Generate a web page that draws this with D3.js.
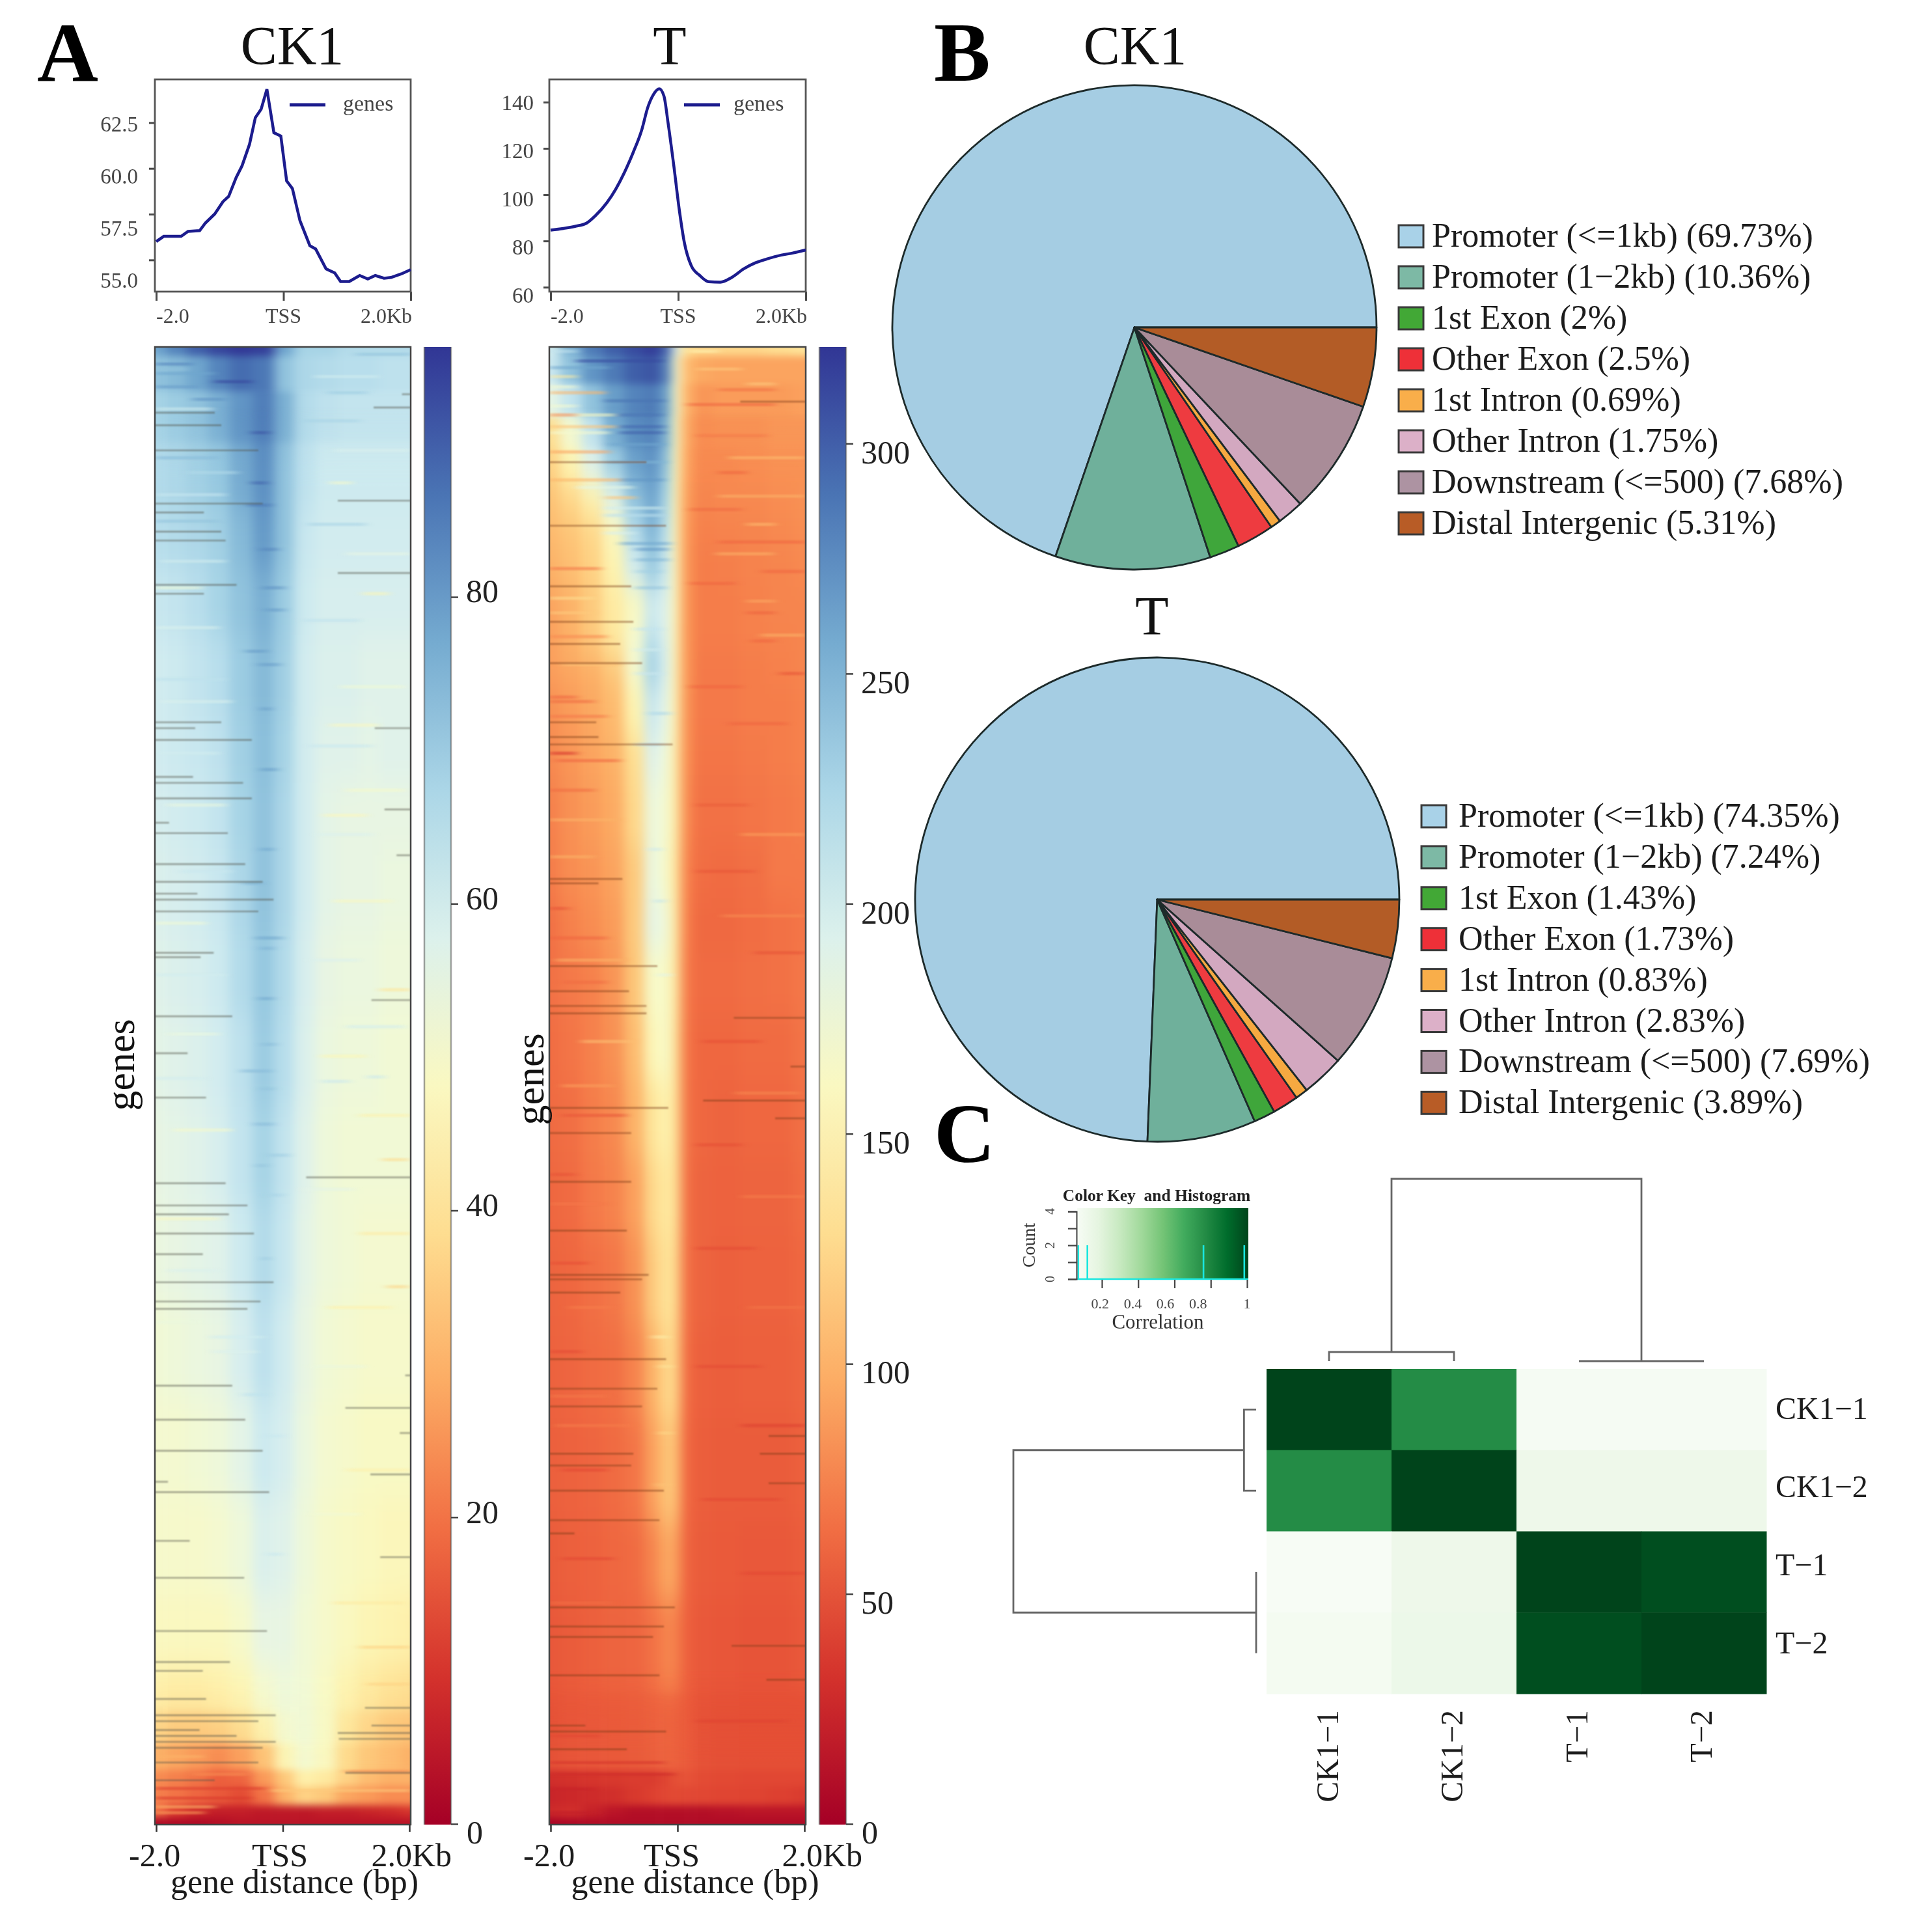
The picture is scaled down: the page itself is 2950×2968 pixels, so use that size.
<!DOCTYPE html>
<html><head><meta charset="utf-8">
<script src="https://cdn.jsdelivr.net/npm/d3@7/dist/d3.min.js"></script>
<style>html,body{margin:0;padding:0;background:#fff}svg{display:block;font-family:"Liberation Serif",serif;filter:blur(0.7px)}</style>
</head><body><svg id="c" width="2950" height="2968" viewBox="0 0 2950 2968"></svg>
<script>
// ---------- profile lines
const ck1LineBp=[-2000,-1882,-1745,-1608,-1499,-1317,-1226,-1080,-952,-861,-743,-651,-533,-442,-351,-260,-150,-41,50,141,260,415,506,670,806,898,1034,1198,1326,1444,1581,1690,1854,2000];
const ck1LineVal=[56.0,56.29,56.29,56.29,56.56,56.6,57.02,57.51,58.18,58.47,59.5,60.14,61.32,62.77,63.23,64.32,61.95,61.77,59.32,58.9,57.14,55.78,55.6,54.51,54.29,53.82,53.82,54.15,53.96,54.15,54.0,54.04,54.24,54.47];
const tLineBp=[-2000,-1800,-1617,-1435,-1298,-1116,-979,-843,-706,-569,-478,-387,-296,-223,-159,-68,23,96,205,342,478,661,843,1025,1207,1390,1617,1800,2000];
const tLineVal=[84.7,85.4,86.3,87.7,90.9,96.6,102.4,109.6,118.2,128.2,137.6,143.3,145.7,142.6,131.1,112.4,92.3,79.4,69.3,65.0,62.4,62.2,64.3,67.9,70.5,72.2,73.9,74.8,76.1];
const ck1LineTicks=[55,57.5,60,62.5], tLineTicks=[60,80,100,120,140];
const xTickBp=[-2000,0,2000], xTickText=["-2.0","TSS","2.0Kb"];
// ---------- heatmap grids (bp columns, gene-rank rows, signal)
const ck1Cols=[-2000,-1667,-1333,-1000,-667,-280,30,333,667,1000,1333,1667,2000];
const ck1Ranks=[0,6,30,65,110,150,195,250,295,338,395,452,514,580,646,712,778,844,892,923,945,963,974,987,995];
const ck1Grid=[
[78,84,90,94,96,95,78,68,68,66,66,66,66],
[72,74,78,84,88,86,72,67,66,65,65,64,64],
[68,70,72,76,81,85,76,66,64,63,63,63,63],
[66,67,69,71,77,82,72,64,61,61,61,61,61],
[65,66,67,69,74,80,72,62,60,60,60,60,60],
[62,63,65,68,72,76,70,61,59,59,59,59,59],
[60,61,63,65,70,74,69,60,58,58,57,57,57],
[60,61,62,64,69,73,68,60,57,57,56,57,57],
[59,60,61,63,68,72,67,60,56,55,55,55,55],
[58,59,60,62,67,72,67,60,56,55,55,54,54],
[57,58,59,61,66,71,66,59,55,54,54,53,53],
[56,57,58,60,64,70,65,58,54,53,53,52,52],
[55,56,57,59,63,68,63,57,53,52,52,52,52],
[54,55,56,57,61,66,62,56,53,52,51,51,51],
[52,53,54,55,59,64,60,55,52,51,50,50,50],
[51,51,52,53,56,61,59,54,51,50,49,49,49],
[50,50,50,51,53,58,57,53,50,49,48,47,47],
[48,48,48,48,50,55,55,52,50,48,46,45,44],
[44,43,43,44,46,51,53,52,49,45,42,40,39],
[37,35,35,36,39,45,51,52,49,41,37,34,33],
[30,28,26,24,27,33,46,51,48,38,34,32,30],
[24,22,20,17,18,26,34,44,42,36,32,30,30],
[22,20,18,16,14,20,30,36,34,28,26,24,24],
[20,12,8,6,6,5,5,5,6,6,7,8,10],
[2,2,2,3,4,4,4,4,4,4,4,4,4]];
const tCols=[-2000,-1666,-1333,-999,-665,-383,-162,-25,128,366,740,1183,1591,2000];
const tRanks=[0,6,25,47,69,91,113,135,162,188,206,228,263,294,338,373,408,452,496,549,602,664,725,795,848,910,963,974,987,995];
const tGrid=[
[200,250,285,300,310,318,300,190,130,125,125,125,130,135],
[205,240,270,285,300,305,285,170,105,95,92,92,92,92],
[185,210,240,265,280,285,265,165,100,85,88,88,88,90],
[130,170,210,255,275,280,255,160,95,80,82,82,85,85],
[120,150,190,230,262,270,240,155,92,78,78,80,82,82],
[110,125,150,190,240,260,225,150,88,76,78,78,80,82],
[105,112,125,160,220,250,215,150,86,74,75,76,78,80],
[100,108,120,150,200,235,205,150,85,72,73,75,76,78],
[92,100,115,140,160,200,190,150,84,72,72,74,76,76],
[90,100,115,140,170,215,190,148,84,72,72,74,75,76],
[90,95,100,115,170,230,195,145,84,70,70,72,74,76],
[82,88,95,105,150,205,185,145,82,70,70,72,72,74],
[78,85,92,100,130,190,175,140,80,68,68,70,72,74],
[74,82,88,96,125,178,170,140,78,66,66,68,70,72],
[72,80,84,92,115,180,165,135,74,64,63,65,70,70],
[66,74,80,88,115,185,175,135,72,62,62,64,66,68],
[66,70,74,84,112,165,165,135,70,63,63,65,66,69],
[64,68,74,82,106,155,165,130,68,61,61,63,63,67],
[63,65,72,78,100,135,150,130,67,61,59,61,61,65],
[61,63,70,75,90,125,140,130,65,59,58,59,59,63],
[59,61,65,69,82,115,135,125,65,59,57,58,58,61],
[58,60,63,65,75,100,125,120,63,57,56,57,57,59],
[57,58,60,63,68,90,112,108,61,56,55,55,55,57],
[55,57,58,61,63,76,95,90,59,55,54,53,53,55],
[53,55,57,59,60,66,76,74,57,53,52,51,51,53],
[50,52,53,54,55,57,59,58,54,50,49,48,48,48],
[30,32,34,36,38,38,42,50,50,46,45,44,44,44],
[24,26,28,30,36,40,44,46,44,44,43,42,40,38],
[28,30,22,14,10,10,10,10,10,10,12,14,14,14],
[4,6,8,8,8,8,8,8,8,8,8,8,8,8]];
// streaks seen in the picture: [rank, bpFrom, bpTo, signal]
const ck1Bands=[[11.6,-2000,-1404,84],[18,-2000,-1064,78],[23.5,-1064,-485,94],[35.5,-1404,-894,82],[58,-485,-213,92],[92,-485,-247,90],[107,-553,-179,86],[137,-349,-77,84],[163,-2000,-1268,52],[163,-315,26,82],[178,-281,26,80],[206,-587,-247,80],[215,-383,-43,80],[245,-349,-179,80],[286,-349,-77,80],[5,1149,2000,72],[31,706,1319,70],[92,740,1081,50],[167,1251,1659,46],[256,740,1489,48],[317,638,1319,47],[340,-349,-145,78],[363,-621,-315,76],[400,-417,-9,78],[407,-349,-145,76],[441,-383,-145,78],[472,-315,-111,74],[490,-655,-179,74],[502,-349,-145,72],[526,-451,-145,74],[547,-247,94,70],[554,-417,-247,72],[574,-247,-9,68],[617,-315,-213,72],[435,1523,2000,40],[550,1557,1966,38],[636,1625,1966,36],[497,604,1047,62],[494,1319,1591,62],[670,-1132,-281,60],[709,-621,-247,64],[737,-281,26,62],[817,-247,-9,62],[905,1319,2000,36],[954,-2000,-1234,30],[966,-1404,-553,24],[964,979,2000,24],[975.5,-2000,-281,12],[977,-179,2000,34],[982,-2000,-485,11],[988,-2000,-1064,30],[992,-2000,-1234,26],
[15,-2000,-1500,72],[27,-2000,-1300,80],[42,-2000,-1100,60],[75,-2000,-1000,74],[85,-1500,-700,66],[100,-2000,-900,62],[118,-2000,-1000,72],[145,-1900,-900,60],[190,-2000,-1000,58],[225,-2000,-900,64],[240,-1900,-800,58],[275,-2000,-1000,60],[310,-1800,-900,54],[355,-1600,-800,62],[390,-2000,-1200,52],[425,-2000,-900,60],[465,-1800,-1000,54],[495,-2000,-1200,60],[530,-1700,-800,50],[590,-2000,-1000,48],[625,-1800,-1000,58],[660,-2000,-1300,54],[680,-1100,-400,58],
[20,500,1500,60],[50,300,1200,68],[70,800,2000,58],[120,400,1300,68],[140,1000,2000,55],[185,300,1200,64],[230,900,1900,52],[270,400,1400,62],[300,1000,1900,50],[330,500,1400,58],[375,800,1700,48],[415,400,1200,58],[460,1000,1900,60],[480,600,1300,46],[520,1200,2000,44],[570,300,1100,56],[600,1200,2000,42],[650,700,1700,44],[690,400,1300,54],[760,1000,2000,44],[790,400,1200,52],[850,800,1900,42],[880,1200,2000,36]];
const tBands=[[3,196,638,150],[3,-2000,-1574,210],[9.5,-1574,-246,312],[14,-2000,-1064,260],[20,-2000,-1574,140],[27,-2000,-1574,170],[31,-2000,-1132,100],[36.5,-1132,-213,290],[40,-2000,-1574,170],[46,-2000,-1574,80],[46,-1574,-962,160],[46,-962,-247,290],[54,-2000,-962,110],[54,-894,-213,295],[58,-2000,-1064,170],[58,-894,-213,300],[66,-1064,-213,260],[71,-2000,-1064,90],[78,-1064,-179,250],[90,-894,-213,270],[95,-1574,-689,185],[102,-1132,-655,110],[109,-1132,-213,200],[114,-1132,-213,215],[126,-1132,-655,195],[133,-894,-111,260],[137,-655,-145,270],[144,-655,-145,250],[152,-655,-247,230],[163,-655,-179,240],[191,-655,-247,210],[205,-655,-247,200],[221,-655,-247,205],[248,-451,-111,225],[269,-655,-247,215],[25,1081,1523,115],[29,638,1523,65],[39,162,1523,60],[85,638,1081,58],[101,638,2000,100],[120,1081,1523,105],[132,638,2000,60],[152,1319,2000,60],[172,1081,1523,95],[180,1081,1523,58],[199,1149,1523,60],[221,1591,2000,50],[275,-2000,-1574,32],[237,-2000,-1574,60],[90,-2000,-894,100],[150,-2000,-1200,68],[180,-2000,-1300,115],[240,-2000,-1300,62],[300,-2000,-1300,62],[320,-2000,-900,100],[380,-2000,-1700,50],[430,-1800,-1100,62],[470,-1500,-700,110],[520,-1800,-800,52],[560,-2000,-1600,50],[620,-2000,-1400,48],[680,-2000,-1500,46],[760,-1800,-1100,44],[820,-1800,-1000,44],[940,-2000,-1200,44],[958,-2000,-200,34],[966,-2000,-43,28],[976,-2000,-1300,22],[992,-2000,-1300,20],
[15,300,1000,115],[60,300,1400,70],[75,800,2000,105],[110,200,1000,62],[140,600,1500,100],[160,200,900,60],[195,1300,2000,100],[230,200,1000,60],[255,800,1700,60],[310,300,1100,55],[330,1000,2000,90],[355,300,1200,52],[385,700,2000,80],[410,1200,2000,50],[470,400,1300,48],[505,900,1900,78],[540,300,1000,48],[575,1000,2000,72],[610,300,1200,46],[650,1100,2000,68],[690,300,1300,46],[730,1000,2000,40],[780,400,1600,44],[830,1000,2000,44],[930,300,1700,42],
[170,-2000,-1300,130],[196,-2000,-1100,78],[215,-1800,-900,110],[250,-2000,-1100,70],[280,-1900,-900,60],[345,-2000,-1300,100],[400,-2000,-1100,60],[415,-1900,-800,100],[500,-1800,-1000,90],[580,-2000,-1100,70],[650,-1700,-1000,72],[710,-2000,-1100,70],[730,-1900,-700,72],[850,-2000,-1000,64],
[670,-400,-150,150],[690,-300,-80,135],[735,-300,-80,125],[770,-350,-100,110],[340,-450,-250,205],[375,-350,-200,215],[425,-300,-100,190]];
const ck1StreaksLeft=[[44.5,-1064],[53,-962],[70,-383],[106,-315],[112,-1234],[125,-962],[131,-894],[161,-723],[167,-1234],[254,-962],[258,-1370],[266,-485],[291,-1404],[295,-621],[305.5,-485],[322,-1779],[329,-860],[350,-587],[362,-315],[370,-1336],[374,-145],[382,-383],[410,-1081],[413,-1285],[453,-791],[478,-1489],[508,-1200],[566,-894],[581,-553],[587,-843],[600,-451],[614,-1251],[633,-145],[646,-349],[651,-553],[703,-791],[726,-587],[747,-315],[768,-1796],[775,-213],[808,-1455],[833,-604],[869,-247],[890,-826],[896,-1251],[915,-1200],[926,-111],[930,-383],[936,-1302],[940,-723],[944,-111],[948,-315],[958,-383],[970,-1064]];
const ck1StreaksRight=[[32,1864],[41,1421],[104,860],[153,860],[258,1438],[313,1591],[344,1779],[442,1387],[562,366],[696,1915],[718,979],[735,1830],[763,1370],[819,1523],[921,1285],[933,1387],[938,860],[942,877],[965,979]];
const tStreaksLeft=[[78,-485],[121,-179],[162,-723],[186,-689],[201,-894],[214,-553],[254,-1268],[264,-1234],[269,-77],[360,-860],[363,-1234],[419,-315],[436,-757],[446,-485],[451,-485],[515,-145],[532,-723],[565,-723],[598,-791],[628,-451],[631,-553],[640,-894],[685,-179],[705,-315],[717,-553],[749,-689],[757,-723],[774,-213],[794,-281],[803,-1608],[853,-43],[866,-213],[873,-383],[899,-281],[933,-1438],[937,-179],[949,-791]];
const tStreaksRight=[[37,979],[454,877],[510,400],[522,1523],[487,1762],[737,1421],[749,1285],[769,1421],[879,843],[902,1387]];
const ck1BarTicks=[0,20,40,60,80], tBarTicks=[0,50,100,150,200,250,300];
const ck1BarMax=96.3, tBarMax=321;
// ---------- pies
const pieCategories=["Promoter (<=1kb)","Promoter (1\u22122kb)","1st Exon","Other Exon","1st Intron","Other Intron","Downstream (<=500)","Distal Intergenic"];
const ck1Pie=[69.73,10.36,2,2.5,0.69,1.75,7.68,5.31];
const tPie=[74.35,7.24,1.43,1.73,0.83,2.83,7.69,3.89];
const pieColors=["#a5cde3","#6fb09b","#3fa63b","#ee3b40","#f6a941","#d3a8c0","#a98c98","#b35c26"];
const legendColors=["#a9d2e8","#7db9a5","#42a836","#ee3038","#f9ae4a","#dcb0c8","#ad93a2","#b85c26"];
// ---------- correlation
const sampleNames=["CK1\u22121","CK1\u22122","T\u22121","T\u22122"];
const corr=[[1,0.76,0.06,0.06],[0.76,1,0.11,0.11],[0.05,0.11,1,0.97],[0.07,0.12,0.97,1]];
const histValues=[0.07,0.12,0.76,0.985], histCounts=[2,2,2,2];
const keyTicks=[0.2,0.4,0.6,0.8,1], keyLabelTicks=["0.2","0.4","0.6","0.8","1"], keyLabelPos=[0.19,0.37,0.55,0.73,1];
const countTicks=[0,1,2,3,4], countLabels=[0,2,4];
const topDendro={pairs:[[0,1,0.05],[2,3,0]],root:1}, leftDendro={pairs:[[0,1,0.05],[2,3,0]],root:1};

const svg=d3.select("#c");
const defs=svg.append("defs");
const DK="#1c1c1c", GR="#4a4a4a";
function txt(p,x,y,s,fs,o={}){const t=p.append("text").attr("x",x).attr("y",y).attr("font-size",fs).attr("fill",o.fill||DK).attr("text-anchor",o.anchor||"start").attr("font-weight",o.weight||"normal").text(s);if(o.rot!==undefined)t.attr("transform",`rotate(${o.rot} ${x} ${y})`);return t;}
function blurF(id,dev){const f=defs.append("filter").attr("id",id).attr("filterUnits","userSpaceOnUse").attr("x",100).attr("y",400).attr("width",1300).attr("height",2600).attr("color-interpolation-filters","sRGB");f.append("feGaussianBlur").attr("stdDeviation",dev);}
blurF("hmBlur","9 6");blurF("hmBlur2","9 24");blurF("bandBlur","7 1.2");blurF("softBlur","1.2 0.8");

// panel titles
txt(svg,104,124,"A",130,{anchor:"middle",weight:"bold",fill:"#000"});
txt(svg,1435,124,"B",130,{weight:"bold",fill:"#000"});
txt(svg,1435,1785,"C",130,{weight:"bold",fill:"#000"});
txt(svg,449,99,"CK1",84,{anchor:"middle",fill:"#111"});
txt(svg,1029,99,"T",84,{anchor:"middle",fill:"#111"});
txt(svg,1744,99,"CK1",84,{anchor:"middle",fill:"#111"});
txt(svg,1770,975,"T",84,{anchor:"middle",fill:"#111"});

function lineChart(o){
  const g=svg.append("g");
  const x=d3.scaleLinear().domain([-2000,2000]).range([o.x0+2,o.x1]);
  const y=d3.scaleLinear().domain(o.dom).range([448,122]);
  const labY=d3.scaleLinear().domain(o.labDom).range(o.labRange);
  const ax=d3.axisLeft(y).tickValues(o.ticks).tickSize(9).tickFormat("");
  const gy=g.append("g").attr("transform",`translate(${o.x0},0)`).call(ax);
  gy.select(".domain").remove(); gy.selectAll("line").attr("stroke",GR).attr("stroke-width",3);
  const bx=d3.axisBottom(x).tickValues(xTickBp).tickSize(14).tickFormat("");
  const gx=g.append("g").attr("transform","translate(0,448)").call(bx);
  gx.select(".domain").remove(); gx.selectAll("line").attr("stroke",GR).attr("stroke-width",3);
  g.append("rect").attr("x",o.x0).attr("y",122).attr("width",o.x1-o.x0).attr("height",326).attr("fill","none").attr("stroke","#555").attr("stroke-width",2.8);
  g.append("path").attr("d",d3.line().x((d,i)=>x(o.bp[i])).y(d=>y(d)).curve(o.curve)(o.val)).attr("fill","none").attr("stroke","#1c1c8e").attr("stroke-width",4.5);
  o.ticks.forEach(t=>txt(g,o.labX,labY(t)+11,o.fmt(t),33,{anchor:"end",fill:"#444"}));
  txt(g,x(-2000),496,xTickText[0],32,{fill:"#444"});
  txt(g,x(0),496,xTickText[1],32,{anchor:"middle",fill:"#444"});
  txt(g,x(2000)+2,496,xTickText[2],32,{anchor:"end",fill:"#444"});
  g.append("line").attr("x1",o.x0+207).attr("x2",o.x0+262).attr("y1",161).attr("y2",161).attr("stroke","#1c1c8e").attr("stroke-width",5);
  txt(g,o.x0+o.legT,170,"genes",34,{fill:"#444"});
}
lineChart({x0:238,x1:631,dom:[53.27,64.86],bp:ck1LineBp,val:ck1LineVal,ticks:ck1LineTicks,labDom:[55,62.5],labRange:[431,191],labX:212,fmt:d=>d.toFixed(1),curve:d3.curveLinear,legT:289});
lineChart({x0:844,x1:1238,dom:[58.1,149.8],bp:tLineBp,val:tLineVal,ticks:tLineTicks,labDom:[60,140],labRange:[454,158],labX:820,fmt:d=>d,curve:d3.curveMonotoneX,legT:283});

function heatmap(o){
  const id="clip"+o.x0;
  defs.append("clipPath").attr("id",id).append("rect").attr("x",o.x0).attr("y",533).attr("width",o.x1-o.x0).attr("height",2803-533);
  const g=svg.append("g");
  const x=d3.scaleLinear().domain([-2000,2000]).range([o.x0,o.x1]);
  const y=d3.scaleLinear().domain([0,1000]).range([533,2803]);
  // the strongly smoothed upper layer fades out instead of ending at an edge
  const fade=defs.append("linearGradient").attr("id",id+"f").attr("gradientUnits","userSpaceOnUse").attr("x1",0).attr("x2",0).attr("y1",y(40)).attr("y2",y(960));
  [[0,0],[0.06,1],[0.93,1],[1,0]].forEach(s=>fade.append("stop").attr("offset",s[0]).attr("stop-color","#fff").attr("stop-opacity",s[1]));
  defs.append("mask").attr("id",id+"m").attr("maskUnits","userSpaceOnUse").attr("x",o.x0-20).attr("y",500).attr("width",o.x1-o.x0+40).attr("height",2400)
    .append("rect").attr("x",o.x0-20).attr("y",500).attr("width",o.x1-o.x0+40).attr("height",2400).attr("fill",`url(#${id}f)`);
  const col=d3.scaleSequential(d3.interpolateRdYlBu).domain([0,o.max]);
  const edges=o.cols.map((c,i)=>i==0?-2800:(c+o.cols[i-1])/2).concat([2800]);
  const rEdges=o.ranks.map((r,i)=>i==0?-30:r).concat([1030]);
  const c=g.append("g").attr("clip-path",`url(#${id})`);
  const layer=(parent,keep)=>o.grid.forEach((row,ri)=>{
    if(!keep(o.ranks[ri]))return;
    parent.selectAll(null).data(row).join("rect")
      .attr("x",(d,i)=>x(edges[i])).attr("width",(d,i)=>x(edges[i+1])-x(edges[i])+0.5)
      .attr("y",y(rEdges[ri])).attr("height",y(rEdges[ri+1])-y(rEdges[ri])+0.5)
      .attr("fill",d=>col(d));
  });
  layer(c.append("g").attr("filter","url(#hmBlur)"),()=>true);
  layer(c.append("g").attr("mask",`url(#${id}m)`).append("g").attr("filter","url(#hmBlur2)"),r=>r<=974);
  c.append("g").attr("filter","url(#bandBlur)").selectAll("line").data(o.bands).join("line")
    .attr("x1",d=>x(d[1])).attr("x2",d=>x(d[2])).attr("y1",d=>y(d[0])).attr("y2",d=>y(d[0]))
    .attr("stroke",d=>col(d[3])).attr("stroke-width",5).attr("stroke-opacity",0.55);
  const st=c.append("g").attr("filter","url(#softBlur)").attr("stroke",o.streak).attr("stroke-opacity",o.streakOp).attr("stroke-width",2.4);
  st.selectAll(null).data(o.left).join("line").attr("x1",x(-2000)).attr("x2",d=>x(d[1])).attr("y1",d=>y(d[0])).attr("y2",d=>y(d[0]));
  st.selectAll(null).data(o.right).join("line").attr("x1",d=>x(d[1])).attr("x2",x(2000)).attr("y1",d=>y(d[0])).attr("y2",d=>y(d[0]));
  g.append("rect").attr("x",o.x0).attr("y",533).attr("width",o.x1-o.x0).attr("height",2270).attr("fill","none").attr("stroke","#444").attr("stroke-width",2.5);
  const xt=d3.scaleLinear().domain([-2000,2000]).range([o.x0+2,o.x1-2]);
  const gx=g.append("g").attr("transform","translate(0,2803)").call(d3.axisBottom(xt).tickValues(xTickBp).tickSize(11).tickFormat(""));
  gx.select(".domain").remove(); gx.selectAll("line").attr("stroke","#333").attr("stroke-width",2.5);
  txt(g,o.x0-40,2867,xTickText[0],50,{});
  txt(g,o.tssX,2867,xTickText[1],50,{anchor:"middle"});
  txt(g,o.kbX,2867,xTickText[2],50,{anchor:"end"});
  txt(g,(o.x0+o.x1)/2+o.xlabShift,2908,"gene distance (bp)",52,{anchor:"middle"});
  txt(g,o.genesX,o.genesY,"genes",62,{anchor:"middle",rot:-90,fill:"#111"});
  // colour bar
  const gid="grad"+o.x0;
  const lg=defs.append("linearGradient").attr("id",gid).attr("x1",0).attr("x2",0).attr("y1",1).attr("y2",0);
  d3.range(0,1.0001,0.1).forEach(t=>lg.append("stop").attr("offset",t).attr("stop-color",d3.interpolateRdYlBu(t)));
  g.append("rect").attr("x",o.bar).attr("y",533).attr("width",41).attr("height",2270).attr("fill",`url(#${gid})`);
  g.selectAll(null).data([o.bar,o.bar+41]).join("line").attr("x1",d=>d).attr("x2",d=>d).attr("y1",533).attr("y2",2803).attr("stroke","#555").attr("stroke-opacity",0.55).attr("stroke-width",2.5);
  const yb=d3.scaleLinear().domain([0,o.max]).range([2802,533]);
  const gb=g.append("g").attr("transform",`translate(${o.bar+41},0)`).call(d3.axisRight(yb).tickValues(o.ticks).tickSize(11).tickFormat(""));
  gb.select(".domain").remove(); gb.selectAll("line").attr("stroke","#444").attr("stroke-width",2.5);
  const lab=d3.scaleLinear().domain(o.labDom).range(o.labRange);
  o.ticks.forEach(t=>txt(g,o.bar+(t==0?65:64),lab(t)+17,t,50,{fill:"#222"}));
}
heatmap({x0:238,x1:631,max:ck1BarMax,cols:ck1Cols,ranks:ck1Ranks,grid:ck1Grid,bands:ck1Bands,left:ck1StreaksLeft,right:ck1StreaksRight,streak:"#55554a",streakOp:0.55,ticks:ck1BarTicks,labDom:[0,20,80],labRange:[2815,2323,908],bar:652,tssX:430,kbX:694,xlabShift:18,genesX:206,genesY:1636});
heatmap({x0:844,x1:1238,max:tBarMax,cols:tCols,ranks:tRanks,grid:tGrid,bands:tBands,left:tStreaksLeft,right:tStreaksRight,streak:"#7a3a18",streakOp:0.55,ticks:tBarTicks,labDom:[0,300],labRange:[2815,695],bar:1259,tssX:1032,kbX:1325,xlabShift:27,genesX:835,genesY:1658});

function pie(o){
  const g=svg.append("g").attr("transform",`translate(${o.cx},${o.cy})`);
  const p=d3.pie().sort(null).startAngle(Math.PI/2).endAngle(Math.PI/2-2*Math.PI)(o.vals);
  const arc=d3.arc().innerRadius(0).outerRadius(372);
  g.selectAll("path").data(p).join("path").attr("d",arc).attr("fill",(d,i)=>pieColors[i]).attr("stroke","#1d2a2a").attr("stroke-width",2.8).attr("stroke-linejoin","round");
  const ly=d3.scaleBand().domain(d3.range(8)).range([o.ly0-o.lstep/2,o.ly0+7.5*o.lstep]);
  const l=svg.append("g");
  pieCategories.forEach((c,i)=>{
    const yc=ly(i)+ly.bandwidth()/2;
    l.append("rect").attr("x",o.sx).attr("y",yc-17).attr("width",38).attr("height",34).attr("fill",legendColors[i]).attr("stroke","#3a3a3a").attr("stroke-width",3);
    txt(l,o.tx,yc+16,`${c} (${o.vals[i]}%)`,52,{});
  });
}
pie({cx:1743,cy:503,vals:ck1Pie,ly0:363,lstep:63,sx:2149,tx:2200});
pie({cx:1778,cy:1382,vals:tPie,ly0:1254,lstep:62.9,sx:2184,tx:2241});

// correlation heatmap
const cx=d3.scaleBand().domain(sampleNames).range([1946,2714]);
const cy=d3.scaleBand().domain(sampleNames).range([2103,2602]);
const green=d3.scaleSequential(d3.piecewise(d3.interpolateRgb,d3.schemeGreens[9])).domain([0.05,1]);
const cg=svg.append("g");
corr.forEach((r,i)=>cg.selectAll(null).data(r).join("rect").attr("x",(d,j)=>cx(sampleNames[j])).attr("y",cy(sampleNames[i])).attr("width",cx.bandwidth()+0.5).attr("height",cy.bandwidth()+0.5).attr("fill",d=>green(d)));
const rowLabY=d3.scaleBand().domain(sampleNames).range([2105,2585]);
const colLabX=d3.scalePoint().domain(sampleNames).range([2056,2630]);
sampleNames.forEach(s=>{
  txt(cg,2728,rowLabY(s)+rowLabY.bandwidth()/2+15,s,48,{});
  txt(cg,colLabX(s),2627,s,48,{anchor:"end",rot:-90});
});
// dendrograms
const topX=s=>cx(sampleNames[s])+cx.bandwidth()/2, leftY=s=>cy(sampleNames[s])+cy.bandwidth()/2;
const topH=d3.scaleLinear().domain([0,1]).range([2091,1811]), leftH=d3.scaleLinear().domain([0,1]).range([1930,1557]);
const dg=svg.append("g").attr("fill","none").attr("stroke","#666").attr("stroke-width",2.8);
const topMid=topDendro.pairs.map(p=>(topX(p[0])+topX(p[1]))/2);
topDendro.pairs.forEach(p=>dg.append("path").attr("d",`M${topX(p[0])},${topH(0)}V${topH(p[2])}H${topX(p[1])}V${topH(0)}`));
dg.append("path").attr("d",`M${topMid[0]},${topH(topDendro.pairs[0][2])}V${topH(topDendro.root)}H${topMid[1]}V${topH(topDendro.pairs[1][2])}`);
const leftMid=leftDendro.pairs.map(p=>(leftY(p[0])+leftY(p[1]))/2);
leftDendro.pairs.forEach(p=>dg.append("path").attr("d",`M${leftH(0)},${leftY(p[0])}H${leftH(p[2])}V${leftY(p[1])}H${leftH(0)}`));
dg.append("path").attr("d",`M${leftH(leftDendro.pairs[0][2])},${leftMid[0]}H${leftH(leftDendro.root)}V${leftMid[1]}H${leftH(leftDendro.pairs[1][2])}`);
// colour key
const kx=d3.scaleLinear().domain([0.2,1]).range([1693,1916]);
const ky=d3.scaleLinear().domain([0,4]).range([1965,1861]);
const kg=svg.append("g");
const kgr=defs.append("linearGradient").attr("id","keyGrad");
d3.range(0,1.0001,0.125).forEach((t,i)=>kgr.append("stop").attr("offset",t).attr("stop-color",d3.schemeGreens[9][i]));
kg.append("rect").attr("x",1655).attr("y",1856).attr("width",263).attr("height",110).attr("fill","url(#keyGrad)");
kg.selectAll(null).data(histValues).join("line").attr("x1",d=>kx(d)).attr("x2",d=>kx(d)).attr("y1",ky(0)).attr("y2",(d,i)=>ky(histCounts[i])).attr("stroke","#19e6df").attr("stroke-width",2.6);
kg.append("line").attr("x1",1655).attr("x2",1918).attr("y1",ky(0)).attr("y2",ky(0)).attr("stroke","#19e6df").attr("stroke-width",2.6);
const ka=kg.append("g").attr("transform","translate(1654,0)").call(d3.axisLeft(ky).tickValues(countTicks).tickSize(13).tickFormat(""));
ka.select(".domain").attr("stroke","#444").attr("stroke-width",2);ka.selectAll("line").attr("stroke","#444").attr("stroke-width",2.2);
const kb=kg.append("g").attr("transform","translate(0,1966)").call(d3.axisBottom(kx).tickValues(keyTicks).tickSize(13).tickFormat(""));
kb.select(".domain").remove();kb.selectAll("line").attr("stroke","#444").attr("stroke-width",2.2);
countLabels.forEach(c=>txt(kg,1620,ky(c),c,20,{anchor:"middle",rot:-90,fill:"#444"}));
txt(kg,1590,1913,"Count",28,{anchor:"middle",rot:-90,fill:"#333"});
keyLabelTicks.forEach((s,i)=>txt(kg,kx(keyLabelPos[i]),2010,s,22,{anchor:"middle",fill:"#444"}));
txt(kg,1779,2041,"Correlation",31,{anchor:"middle",fill:"#333"});
txt(kg,1777,1845,"Color Key  and Histogram",25.5,{anchor:"middle",weight:"bold",fill:"#222"}).style("white-space","pre");
</script></body></html>
